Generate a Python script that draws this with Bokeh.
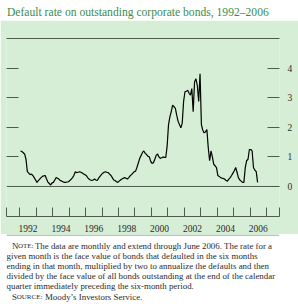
from bokeh.plotting import figure
from bokeh.models import Range1d, LinearAxis, FixedTicker, Span, Label, ColumnDataSource
from bokeh.layouts import column
from bokeh.embed import file_html
from bokeh.resources import INLINE

title_text = "Default rate on outstanding corporate bonds, 1992\u20132006"
unit_label = "Percent"
first_year = 1992

# monthly default rate, percent (Jan 1992 - Jun 2006)
rate_1992 = [1.20, 1.18, 1.14, 1.10, 0.92, 0.50, 0.45, 0.40, 0.42, 0.37, 0.30, 0.22]
rate_1993 = [0.14, 0.20, 0.25, 0.30, 0.34, 0.36, 0.37, 0.25, 0.15, 0.10, 0.05, 0.12]
rate_1994 = [0.14, 0.22, 0.30, 0.28, 0.25, 0.20, 0.18, 0.16, 0.14, 0.14, 0.15, 0.16]
rate_1995 = [0.20, 0.25, 0.30, 0.38, 0.50, 0.47, 0.48, 0.50, 0.48, 0.46, 0.42, 0.40]
rate_1996 = [0.37, 0.30, 0.25, 0.22, 0.20, 0.22, 0.25, 0.22, 0.20, 0.28, 0.34, 0.40]
rate_1997 = [0.45, 0.48, 0.50, 0.48, 0.47, 0.42, 0.37, 0.30, 0.22, 0.20, 0.16, 0.14]
rate_1998 = [0.18, 0.22, 0.25, 0.28, 0.30, 0.28, 0.25, 0.30, 0.36, 0.40, 0.45, 0.50]
rate_1999 = [0.52, 0.65, 0.80, 0.95, 1.05, 1.15, 1.20, 1.12, 1.08, 1.02, 1.00, 0.85]
rate_2000 = [0.78, 0.80, 0.92, 1.05, 1.10, 1.00, 0.95, 0.97, 1.00, 0.98, 0.98, 1.37]
rate_2001 = [2.09, 2.35, 2.53, 2.75, 2.70, 2.64, 2.40, 2.20, 2.09, 1.98, 2.14, 2.87]
rate_2002 = [3.20, 3.22, 3.25, 3.15, 3.09, 3.31, 2.53, 3.53, 3.64, 3.42, 2.87, 3.81]
rate_2003 = [2.09, 1.90, 1.81, 1.85, 1.92, 1.31, 0.87, 1.20, 1.00, 0.75, 0.70, 0.64]
rate_2004 = [0.37, 0.34, 0.30, 0.28, 0.27, 0.25, 0.20, 0.18, 0.25, 0.30, 0.37, 0.45]
rate_2005 = [0.53, 0.64, 0.48, 0.30, 0.22, 0.18, 0.14, 0.14, 0.64, 0.87, 0.92, 1.25]
rate_2006 = [1.25, 1.20, 0.64, 0.55, 0.50, 0.14]

year_labels = ["1992", "1994", "1996", "1998", "2000", "2002", "2004", "2006"]
year_bounds = list(range(1992, 2008))
y_ticks = [1, 2, 3, 4]
y_labels = ["0", "1", "2", "3", "4"]

note_lines = [
    "The data are monthly and extend through June 2006. The rate for a",
    "given month is the face value of bonds that defaulted in the six months",
    "ending in that month, multiplied by two to annualize the defaults and then",
    "divided by the face value of all bonds outstanding at the end of the calendar",
    "quarter immediately preceding the six-month period.",
]
source_text = "Moody\u2019s Investors Service."

rates = (rate_1992 + rate_1993 + rate_1994 + rate_1995 + rate_1996 + rate_1997 +
         rate_1998 + rate_1999 + rate_2000 + rate_2001 + rate_2002 + rate_2003 +
         rate_2004 + rate_2005 + rate_2006)
dates = [first_year + (i + 0.5) / 12 for i in range(len(rates))]

GREEN_BG = "#d6eed6"
AXIS = "#4f5b4f"
TXT = "#2b2b2b"
TITLE_GREEN = "#3b8c4a"
SERIF = "Liberation Serif"

# ---------- title ----------
t = figure(width=298, height=20, x_range=Range1d(0, 298), y_range=Range1d(20, 0),
           x_axis_type=None, y_axis_type=None, toolbar_location=None,
           output_backend="svg", min_border=0, outline_line_color=None)
t.add_layout(Label(x=0.5, y=12, text=title_text, text_font=SERIF, text_font_size="11.6px",
                   text_color=TITLE_GREEN, text_baseline="alphabetic"))

# ---------- main chart ----------
x0, x1 = 1991.19, 2007.79
p = figure(width=298, height=214, x_range=Range1d(x0, x1), y_range=Range1d(-1.0145, 5.0),
           x_axis_type=None, y_axis_type=None, toolbar_location=None,
           output_backend="svg", min_border_left=6, min_border_right=19,
           min_border_top=18, min_border_bottom=14,
           background_fill_color=GREEN_BG, border_fill_color=GREEN_BG,
           outline_line_color=None)

src = ColumnDataSource(dict(x=dates, y=rates))
p.line("x", "y", source=src, line_color="black", line_width=1.2)
p.add_layout(Span(location=0, dimension="width", line_color=AXIS, line_width=1))

xaxis = LinearAxis(
    ticker=FixedTicker(ticks=[int(s) + 0.5 for s in year_labels],
                       minor_ticks=[x0 + 0.01] + year_bounds + [x1 - 0.01]),
    major_label_overrides={int(s) + 0.5: s for s in year_labels},
    major_tick_line_color=None, minor_tick_in=9, minor_tick_out=0,
    minor_tick_line_color=AXIS, axis_line_color=AXIS,
    major_label_text_font=SERIF, major_label_text_font_size="9.5px",
    major_label_standoff=2, major_label_text_color=TXT)
p.add_layout(xaxis, "below")

top_axis = LinearAxis(ticker=FixedTicker(ticks=[]), axis_line_color=AXIS,
                      major_tick_line_color=None, minor_tick_line_color=None,
                      major_label_text_font_size="1px")
p.add_layout(top_axis, "above")

left_axis = LinearAxis(ticker=FixedTicker(ticks=y_ticks), axis_line_color=None,
                       major_tick_in=12, major_tick_out=0, major_tick_line_color=AXIS,
                       minor_tick_line_color=None, major_label_text_color=None,
                       major_label_text_font_size="1px", major_label_standoff=0)
p.add_layout(left_axis, "left")

right_axis = LinearAxis(ticker=FixedTicker(ticks=[int(v) for v in y_labels]), axis_line_color=None,
                        major_tick_in=12, major_tick_out=0, major_tick_line_color=AXIS,
                        minor_tick_line_color=None,
                        major_label_overrides={int(v): v for v in y_labels},
                        major_label_text_font=SERIF, major_label_text_font_size="9.5px",
                        major_label_text_color=TXT, major_label_standoff=8)
p.add_layout(right_axis, "right")

p.add_layout(Label(x=x1, x_offset=11, y=0.31, text="+", text_font=SERIF,
                   text_font_size="9.5px", text_color=TXT, text_align="center",
                   text_baseline="middle"))
p.add_layout(Label(x=x1, x_offset=11, y=-0.24, text="\u2212", text_font=SERIF,
                   text_font_size="9.5px", text_color=TXT, text_align="center",
                   text_baseline="middle"))
p.add_layout(Label(x=x1, x_offset=13, y=5.23, text=unit_label, text_font=SERIF,
                   text_font_size="8.5px", text_color=TXT, text_align="right",
                   text_baseline="middle"))

# ---------- notes ----------
n = figure(width=298, height=70, x_range=Range1d(0, 298), y_range=Range1d(70, 0),
           x_axis_type=None, y_axis_type=None, toolbar_location=None,
           output_backend="svg", min_border=0, outline_line_color=None)
n.add_layout(Span(location=0.6, dimension="width", line_color="#8cc596", line_width=1.5))

FS = "8.9px"
SC = "7px"
n.add_layout(Label(x=6, y=11, text="N", text_font=SERIF, text_font_size=FS,
                   text_color=TXT, text_baseline="middle"))
n.add_layout(Label(x=12.5, y=11.5, text="OTE:", text_font=SERIF, text_font_size=SC,
                   text_color=TXT, text_baseline="middle"))
n.add_layout(Label(x=31, y=11, text=note_lines[0], text_font=SERIF, text_font_size=FS,
                   text_color=TXT, text_baseline="middle"))
for i, line in enumerate(note_lines[1:]):
    n.add_layout(Label(x=0, y=21 + 10 * i, text=line, text_font=SERIF, text_font_size=FS,
                       text_color=TXT, text_baseline="middle"))
n.add_layout(Label(x=6, y=62, text="S", text_font=SERIF, text_font_size=FS,
                   text_color=TXT, text_baseline="middle"))
n.add_layout(Label(x=11.2, y=62.5, text="OURCE:", text_font=SERIF, text_font_size=SC,
                   text_color=TXT, text_baseline="middle"))
n.add_layout(Label(x=42, y=62, text=source_text, text_font=SERIF, text_font_size=FS,
                   text_color=TXT, text_baseline="middle"))

layout = column(t, p, n, spacing=0)
open("out.html", "w").write(file_html(layout, INLINE))
